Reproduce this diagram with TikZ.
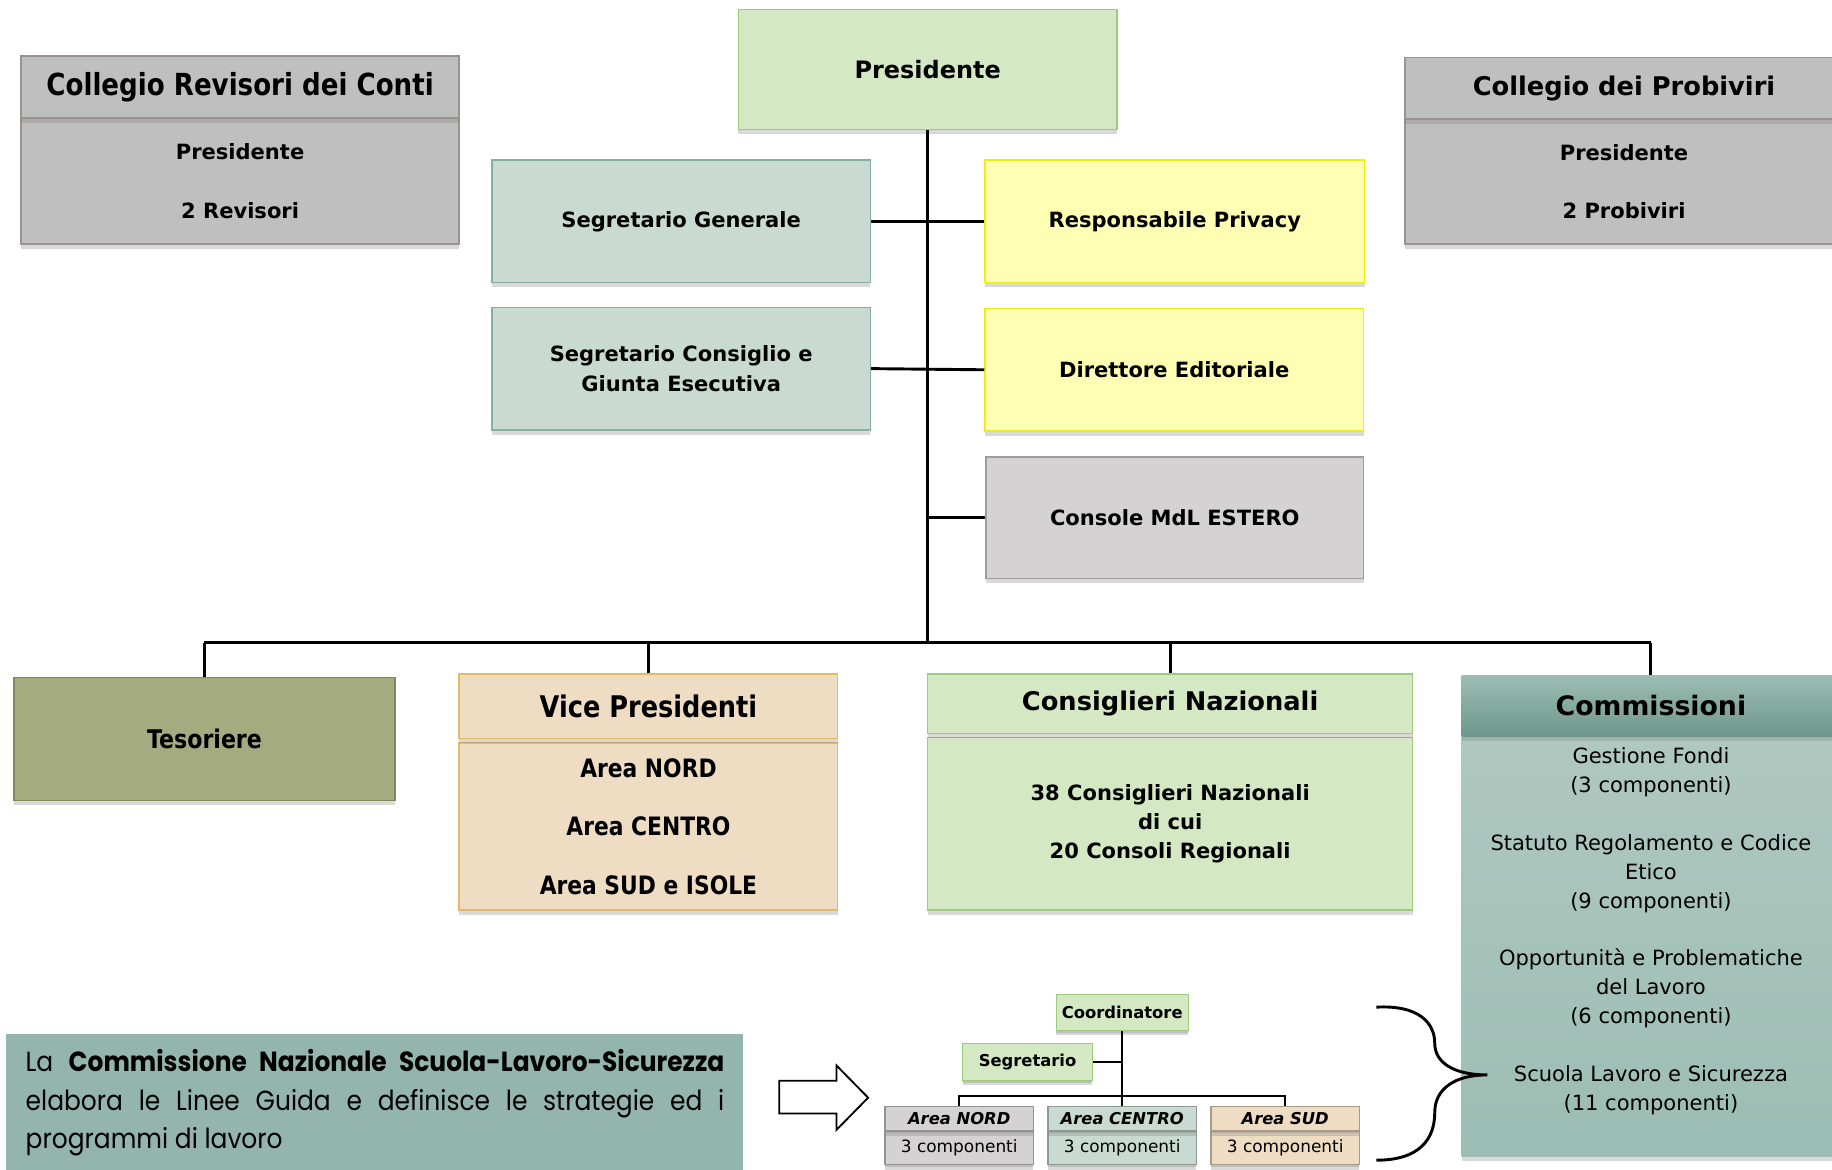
\documentclass[tikz,border=0pt]{standalone}
\usepackage{fontspec}
\setmainfont{DejaVu Sans}
\newfontfamily\condfont{DejaVu Sans}[FakeStretch=0.86]
\newfontfamily\notefont{Poppins}[FakeStretch=0.9]
\usetikzlibrary{shadows,positioning}

\definecolor{grigio}{HTML}{BFBFBF}
\definecolor{grigiobordo}{HTML}{9A9191}
\definecolor{verdino}{HTML}{D5E8C4}
\definecolor{verdebordo}{HTML}{9CCB7C}
\definecolor{acqua}{HTML}{C9DAD3}
\definecolor{acquabordo}{HTML}{86AFA2}
\definecolor{giallo}{HTML}{FFFFB3}
\definecolor{giallobordo}{HTML}{EEEE10}
\definecolor{perla}{HTML}{D4D2D2}
\definecolor{perlabordo}{HTML}{A09B9B}
\definecolor{oliva}{HTML}{A4AB80}
\definecolor{olivabordo}{HTML}{7E8A5C}
\definecolor{sabbia}{HTML}{EEDDC2}
\definecolor{sabbiabordo}{HTML}{E2BA64}
\definecolor{commtesta}{HTML}{6F978B}
\definecolor{commtestasu}{HTML}{9DBDB3}
\definecolor{commsu}{HTML}{AFC8C0}
\definecolor{commmezzo}{HTML}{88AFA3}
\definecolor{commgiu}{HTML}{9CBDB3}
\definecolor{notasfondo}{HTML}{93B5AD}

\tikzset{
box/.style={rectangle,draw,line width=1.2pt,inner sep=0pt,align=center,font=\bfseries\fontsize{18}{25}\selectfont,drop shadow={shadow xshift=0pt,shadow yshift=-4pt,opacity=0.3}},
titolo/.style={font=\bfseries\fontsize{22}{26}\selectfont},
piccolo/.style={box,line width=1pt,font=\bfseries\fontsize{14}{17}\selectfont,drop shadow={shadow xshift=0pt,shadow yshift=-2pt,opacity=0.3}},
conn/.style={line width=2.5pt},
sconn/.style={line width=2pt}
}

\begin{document}
\begin{tikzpicture}[x=1pt,y=-1pt]
\useasboundingbox (0,0) rectangle (1568,1001);
\clip (0,0) rectangle (1568,1001);
% vertici
\node[box,fill=verdino,draw=verdebordo,minimum width=324,minimum height=103,font=\bfseries\fontsize{20.5}{25}\selectfont](pres)at(794,59.5){Presidente};
\node[box,fill=grigio,draw=grigiobordo,minimum width=375,minimum height=108,font=\bfseries\fontsize{18}{50}\selectfont](revb)at(205.5,155){Presidente\\2 Revisori};
\node[box,fill=grigio,draw=grigiobordo,minimum width=375,minimum height=53,font=\bfseries\fontsize{26}{30}\selectfont,drop shadow={opacity=0}](revh)at(205.5,74.5){\condfont Collegio Revisori dei Conti};
\node[box,fill=grigio,draw=grigiobordo,minimum width=375,minimum height=107,font=\bfseries\fontsize{18}{50}\selectfont](probb)at(1390,155.5){Presidente\\2 Probiviri};
\node[box,fill=grigio,draw=grigiobordo,minimum width=375,minimum height=53,titolo,drop shadow={opacity=0}](probh)at(1390,75.5){Collegio dei Probiviri};
% staff
\node[box,fill=acqua,draw=acquabordo,minimum width=324,minimum height=105](segr)at(583,189.5){Segretario Generale};
\node[box,fill=acqua,draw=acquabordo,minimum width=324,minimum height=105](segcons)at(583,315.5){Segretario Consiglio e\\Giunta Esecutiva};
\node[box,fill=giallo,draw=giallobordo,minimum width=325,minimum height=105](priv)at(1005.5,189.5){Responsabile Privacy};
\node[box,fill=giallo,draw=giallobordo,minimum width=324,minimum height=105](dir)at(1005,316.5){Direttore Editoriale};
\node[box,fill=perla,draw=perlabordo,minimum width=323,minimum height=104](estero)at(1005.5,443){Console MdL ESTERO};
% livello inferiore
\node[box,fill=oliva,draw=olivabordo,minimum width=326,minimum height=105,font=\bfseries\fontsize{22}{26}\selectfont](tes)at(175,632.5){\condfont Tesoriere};
\node[box,fill=sabbia,draw=sabbiabordo,minimum width=324,minimum height=143,font=\bfseries\fontsize{21.7}{50}\selectfont](viceb)at(555,707.5){\condfont Area NORD\\\condfont Area CENTRO\\\condfont Area SUD e ISOLE};
\node[box,fill=sabbia,draw=sabbiabordo,minimum width=324,minimum height=55,font=\bfseries\fontsize{25.5}{30}\selectfont](viceh)at(555,604.5){\condfont Vice Presidenti};
\node[box,fill=verdino,draw=verdebordo,minimum width=415,minimum height=148](consb)at(1001.5,705){38 Consiglieri Nazionali\\di cui\\20 Consoli Regionali};
\node[box,fill=verdino,draw=verdebordo,minimum width=415,minimum height=51,titolo](consh)at(1001.5,602.5){Consiglieri Nazionali};
\node[box,draw=none,top color=commsu,middle color=commmezzo,bottom color=commgiu,minimum width=324,minimum height=360](commb)at(1413,810){};
\node[box,draw=none,top color=commtestasu,bottom color=commtesta,minimum width=324,minimum height=52,font=\bfseries\fontsize{22.9}{26}\selectfont,drop shadow={opacity=0}](commh)at(1413,604){Commissioni};
\node[align=center,font=\fontsize{18}{24.7}\selectfont](commtxt)at(1413,797){Gestione Fondi\\(3 componenti)\\[24.7pt]Statuto Regolamento e Codice\\Etico\\(9 componenti)\\[24.7pt]Opportunità e Problematiche\\del Lavoro\\(6 componenti)\\[24.7pt]Scuola Lavoro e Sicurezza\\(11 componenti)};
% collegamenti
\coordinate(bus)at(794,550);
\draw[conn](pres.south)--(bus);
\draw[conn](segr.east)--(priv.west);
\draw[conn](segcons.east)--(dir.west);
\draw[conn](estero.west)--(estero.west-|pres.south);
\draw[conn](tes.north|-bus)--(commh.north|-bus);
\foreach \n in {tes,viceh,consh,commh}{\draw[conn](\n.north)--(\n.north|-bus);}
% nota e commissione scuola-lavoro
\node[fill=notasfondo,minimum width=631,minimum height=120,inner sep=0pt,drop shadow={shadow xshift=0pt,shadow yshift=-3pt,opacity=0.25}](notabox)at(320.5,945){};
\node[text width=598,align=justify,inner sep=0pt,font=\notefont\fontsize{23.7}{33}\selectfont](nota)at(321,944){La \textbf{Commissione Nazionale Scuola-Lavoro-Sicurezza}\linebreak elabora le Linee Guida e definisce le strategie ed i\linebreak programmi di lavoro};
\draw[line width=1.6pt,fill=white](667,925)--(716,925)--(716,912)--(743,939.5)--(716,967)--(716,953)--(667,953)--cycle;
\node[piccolo,fill=verdino,draw=verdebordo,minimum width=113,minimum height=31](coord)at(960.5,866.5){Coordinatore};
\node[piccolo,fill=verdino,draw=verdebordo,minimum width=111,minimum height=32](segr2)at(879.5,909){Segretario};
\foreach \a/\t/\x/\c in {nord/NORD/821/perla,centro/CENTRO/960.5/acqua,sud/SUD/1100/sabbia}{
\node[piccolo,fill=\c,draw=\c!70!black,minimum width=127,minimum height=29,font=\fontsize{14.5}{17}\selectfont](\a b)at(\x,982.5){3 componenti};
\node[piccolo,fill=\c,draw=\c!70!black,minimum width=127,minimum height=21,font=\bfseries\itshape\fontsize{14}{17}\selectfont,drop shadow={opacity=0}](\a h)at(\x,957.5){Area \t};}
\coordinate(sbus)at(961,938);
\draw[sconn](coord.south)--(centroh.north);
\draw[sconn](segr2.east)--(segr2.east-|coord.south);
\draw[sconn](nordh.north)--(nordh.north|-sbus)--(sudh.north|-sbus)--(sudh.north);
\draw[line width=2.5pt](1178,862)..controls(1215,860)and(1228,876)..(1228,893)..controls(1228,910)and(1245,920)..(1273,920)..controls(1245,920)and(1228,932)..(1228,952)..controls(1228,975)and(1215,993)..(1178,993);
\end{tikzpicture}
\end{document}
